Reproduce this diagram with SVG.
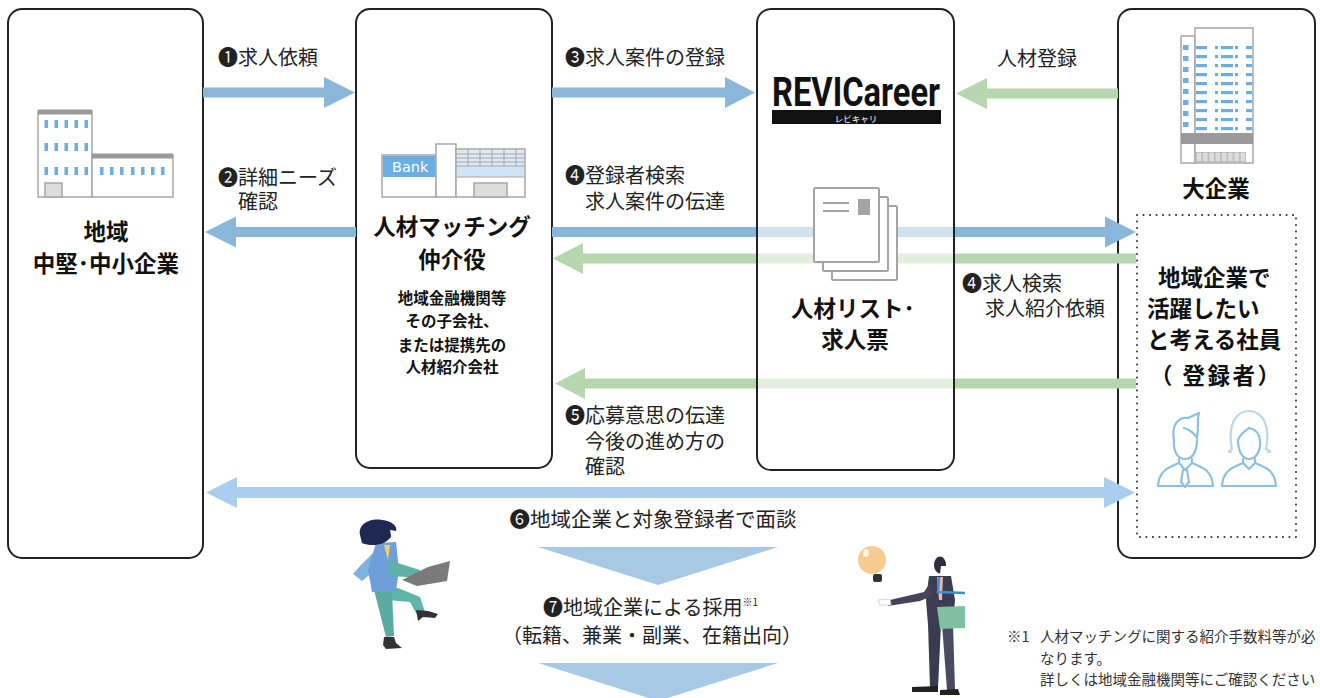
<svg xmlns="http://www.w3.org/2000/svg" width="1320" height="698" viewBox="0 0 1320 698">
  <style>
    text { font-family: "Noto Sans CJK JP", "Noto Sans", sans-serif; fill: #222; dominant-baseline: central; }
    .lbl { font-size: 20px; }
    .ttl { font-size: 22.5px; font-weight: bold; fill: #111; text-anchor: middle; }
    .sub { font-size: 15.5px; font-weight: bold; fill: #111; text-anchor: middle; }
    .note { font-size: 14.5px; fill: #333; }
    .box { fill: none; stroke: #222; stroke-width: 2; }
    .bldg { fill: #fff; stroke: #a6a6a6; stroke-width: 1.5; }
    .win { fill: #6aaee3; }
    .blue { fill: #8ab6da; }
    .green { fill: #b6d7ae; }
    .pale { fill: #a9cdec; }
    .person { fill: none; stroke: #8cc0e0; stroke-width: 2.2; stroke-linejoin: round; stroke-linecap: round; }
  </style>
  <defs>
    <pattern id="towerWin" patternUnits="userSpaceOnUse" x="1195" y="46" width="58" height="9">
      <rect x="1" y="0" width="11" height="3.2" class="win"/>
      <rect x="20" y="0" width="3" height="3.2" class="win"/>
      <rect x="26" y="0" width="12" height="3.2" class="win"/>
      <rect x="40" y="0" width="3" height="3.2" class="win"/>
      <rect x="51" y="0" width="6" height="3.2" class="win"/>
    </pattern>
    <pattern id="wingWin" patternUnits="userSpaceOnUse" x="1181" y="45" width="14" height="11">
      <rect x="2" y="0" width="5.5" height="5" class="win"/>
    </pattern>
    <pattern id="fence" patternUnits="userSpaceOnUse" x="1196" y="152" width="6.25" height="10">
      <rect x="0" y="0" width="6.25" height="10" fill="#ddd" stroke="#a6a6a6" stroke-width="1"/>
    </pattern>
  </defs>

  <!-- regional mid-size / small company -->
  <g id="node-chuken">
    <rect class="box" x="8" y="9" width="195" height="549" rx="14"/>
    <rect class="bldg" x="38" y="111" width="54" height="86"/>
    <rect class="bldg" x="92" y="155" width="81" height="42"/>
    <rect x="38" y="109.5" width="54" height="5" fill="#9a9a9a"/>
    <rect x="92" y="153.5" width="81" height="5" fill="#9a9a9a"/>
    <g class="win">
      <rect x="44.5" y="120" width="3.5" height="8"/><rect x="54.5" y="120" width="3.5" height="8"/><rect x="64.5" y="120" width="3.5" height="8"/><rect x="74.5" y="120" width="3.5" height="8"/><rect x="84.5" y="120" width="3.5" height="8"/>
      <rect x="44.5" y="143" width="3.5" height="8"/><rect x="54.5" y="143" width="3.5" height="8"/><rect x="64.5" y="143" width="3.5" height="8"/><rect x="74.5" y="143" width="3.5" height="8"/><rect x="84.5" y="143" width="3.5" height="8"/>
      <rect x="44.5" y="167" width="3.5" height="8"/><rect x="54.5" y="167" width="3.5" height="8"/><rect x="64.5" y="167" width="3.5" height="8"/><rect x="74.5" y="167" width="3.5" height="8"/><rect x="84.5" y="167" width="3.5" height="8"/>
      <rect x="100" y="167" width="3.5" height="8"/><rect x="110" y="167" width="3.5" height="8"/><rect x="120" y="167" width="3.5" height="8"/><rect x="131" y="167" width="3.5" height="8"/><rect x="141" y="167" width="3.5" height="8"/><rect x="151" y="167" width="3.5" height="8"/><rect x="161" y="167" width="3.5" height="8"/>
    </g>
    <rect x="45" y="183" width="17" height="14" fill="#ddd" stroke="#a6a6a6" stroke-width="1.5"/>
    <text class="ttl" x="106" y="230">地域</text>
    <text class="ttl" x="106" y="262">中堅･中小企業</text>
  </g>

  <!-- matching intermediary -->
  <g id="node-matching">
    <rect class="box" x="356" y="9" width="196" height="459" rx="14"/>
    <rect class="bldg" x="382" y="155" width="54" height="42"/>
    <rect x="383" y="156" width="52" height="21" fill="#6aaee3"/>
    <text x="392" y="167" style="font-family:'DejaVu Sans',sans-serif;font-size:14.5px;fill:#fff">Bank</text>
    <rect class="bldg" x="436" y="144" width="20" height="53"/>
    <rect class="bldg" x="456" y="149" width="69" height="48"/>
    <rect x="457" y="150" width="67" height="16" fill="#dbeaf6"/>
    <rect x="457" y="166" width="67" height="11" fill="#cfe5f5"/>
    <g stroke="#a6a6a6" stroke-width="1">
      <line x1="456" y1="154" x2="525" y2="154"/><line x1="456" y1="158" x2="525" y2="158"/><line x1="456" y1="162" x2="525" y2="162"/><line x1="456" y1="166" x2="525" y2="166"/>
      <line x1="468" y1="149" x2="468" y2="166"/><line x1="480" y1="149" x2="480" y2="166"/><line x1="492" y1="149" x2="492" y2="166"/><line x1="504" y1="149" x2="504" y2="166"/><line x1="516" y1="149" x2="516" y2="166"/>
      <line x1="456" y1="177" x2="525" y2="177"/>
    </g>
    <rect x="474" y="183" width="33" height="14" fill="#ddd" stroke="#a6a6a6" stroke-width="1.5"/>
    <text class="ttl" x="452" y="225">人材マッチング</text>
    <text class="ttl" x="452" y="258">仲介役</text>
    <text class="sub" x="452" y="297">地域金融機関等</text>
    <text class="sub" x="452" y="320">その子会社、</text>
    <text class="sub" x="452" y="344">または提携先の</text>
    <text class="sub" x="452" y="366">人材紹介会社</text>
  </g>

  <!-- large company and its employees -->
  <g id="node-daikigyo">
    <rect class="box" x="1118" y="9" width="197" height="549" rx="14"/>
    <rect class="bldg" x="1181" y="36" width="14" height="127"/>
    <rect class="bldg" x="1195" y="28" width="58" height="135"/>
    <rect x="1195.8" y="45" width="56.4" height="86" fill="url(#towerWin)"/>
    <rect x="1181.8" y="45" width="12.4" height="86" fill="url(#wingWin)"/>
    <rect x="1181" y="133" width="72" height="11" fill="#9a9a9a"/>
    <rect x="1196" y="152" width="50" height="10" fill="url(#fence)"/>
    <text class="ttl" x="1216" y="187">大企業</text>
    <rect x="1137" y="215" width="159" height="322" fill="none" stroke="#333" stroke-width="2" stroke-dasharray="0.1 6.4" stroke-linecap="round"/>
    <text class="ttl" x="1158" y="276" style="text-anchor:start">地域企業で</text>
    <text class="ttl" x="1147" y="307" style="text-anchor:start">活躍したい</text>
    <text class="ttl" x="1147" y="338" style="text-anchor:start">と考える社員</text>
    <text class="ttl" x="1150" y="374" style="text-anchor:start;letter-spacing:2.5px">（ 登録者）</text>
    <!-- man -->
    <g class="person">
      <path d="M1174,440 C1173,452 1178,459 1185,459 C1193,459 1197,451 1197,440"/>
      <path d="M1174,441 C1171,425 1178,417 1188,418 L1199,413 C1197,418 1199,424 1197,438 C1193,432 1188,429 1184,428"/>
      <path d="M1179,459 L1179,463 C1167,468 1159,471 1158,486 L1213,486 C1212,471 1204,468 1192,463 L1192,459"/>
      <path d="M1179,463 L1185,470 L1192,463"/>
      <path d="M1183,470 L1181,482 L1185,487 L1189,482 L1187,470"/>
    </g>
    <!-- woman -->
    <g class="person">
      <path d="M1238,440 C1238,452 1243,459 1249,459 C1256,459 1261,451 1260,440 C1259,432 1254,429 1249,428 C1245,431 1240,434 1238,440"/>
      <path d="M1232,449 C1227,425 1236,411 1249,411 C1262,411 1271,425 1266,449 C1270,451 1272,452 1268,452" stroke="#bcd6e6"/>
      <path d="M1232,449 C1229,451 1227,452 1231,452" stroke="#bcd6e6"/>
      <path d="M1243,459 L1243,463 C1231,468 1223,471 1222,486 L1276,486 C1275,471 1267,468 1255,463 L1255,459"/>
      <path d="M1243,463 L1249,469 L1255,463"/>
    </g>
  </g>

  <!-- flow arrows -->
  <g id="connectors">
    <!-- 1: job request -->
    <path class="blue" d="M203,87.5 H324 V77 L355,92.5 L324,108 V97.5 H203 Z"/>
    <!-- 2: detailed needs -->
    <path class="blue" d="M356,227 H236 V216.5 L205,232 L236,247.5 V237 H356 Z"/>
    <!-- 3: register job -->
    <path class="blue" d="M552,87.5 H725 V77 L755,92.5 L725,108 V97.5 H552 Z"/>
    <!-- talent registration -->
    <path class="green" d="M1118,88.5 H987 V78 L956,93.5 L987,109 V98.5 H1118 Z"/>
    <!-- 4: search / job info to registrant -->
    <path class="blue" d="M552,227 H1105 V216.5 L1136,232 L1105,247.5 V237 H552 Z"/>
    <!-- 4: job search / referral request -->
    <path class="green" d="M1136,253.5 H583 V243 L553,258.5 L583,274 V263.5 H1136 Z"/>
    <!-- 5: application intent -->
    <path class="green" d="M1136,378.5 H585 V368 L555,383.5 L585,399 V388.5 H1136 Z"/>
    <!-- 6: interview -->
    <path class="pale" d="M237,487 H1104 V477 L1135,492.5 L1104,508 V498 H237 V508 L206,492.5 L237,477 Z"/>
    <!-- 7: hiring steps -->
    <polygon points="538,547 778,547 658,585" fill="#a8c9e5"/>
    <polygon points="538,663 778,663 658,701" fill="#a8c9e5"/>
  </g>

  <!-- REVICareer platform (veils arrows passing through) -->
  <g id="node-revicareer">
    <rect x="757" y="9" width="197" height="461" rx="14" fill="#fff" fill-opacity="0.6" stroke="#222" stroke-width="2"/>
    <text x="772" y="92" textLength="168" lengthAdjust="spacingAndGlyphs" style="font-family:Roboto,'Liberation Sans',sans-serif;font-weight:bold;font-size:41px;fill:#111">REVICareer</text>
    <rect x="772" y="110" width="169" height="14" fill="#111"/>
    <text x="856" y="117.5" style="font-size:8.5px;fill:#fff;text-anchor:middle">レビキャリ</text>
    <g fill="#fff" stroke="#a3a3a3" stroke-width="2">
      <rect x="832" y="206" width="65" height="74" rx="1.5"/>
      <rect x="823" y="197" width="65" height="74" rx="1.5"/>
      <rect x="814" y="188" width="65" height="74" rx="1.5"/>
    </g>
    <line x1="823" y1="203" x2="849" y2="203" stroke="#a3a3a3" stroke-width="2"/>
    <line x1="823" y1="211" x2="849" y2="211" stroke="#a3a3a3" stroke-width="2"/>
    <rect x="858" y="199" width="12" height="16" fill="#a3a3a3"/>
    <text class="ttl" x="853" y="307">人材リスト･</text>
    <text class="ttl" x="855" y="338">求人票</text>
  </g>

  <!-- flow labels -->
  <g id="labels">
    <text class="lbl" x="218" y="56">❶求人依頼</text>
    <text class="lbl" x="218" y="176">❷詳細ニーズ</text>
    <text class="lbl" x="238" y="200">確認</text>
    <text class="lbl" x="565" y="56">❸求人案件の登録</text>
    <text class="lbl" x="565" y="174">❹登録者検索</text>
    <text class="lbl" x="585" y="200">求人案件の伝達</text>
    <text class="lbl" x="997" y="57">人材登録</text>
    <text class="lbl" x="962" y="282">❹求人検索</text>
    <text class="lbl" x="985" y="307">求人紹介依頼</text>
    <text class="lbl" x="565" y="414">❺応募意思の伝達</text>
    <text class="lbl" x="585" y="440">今後の進め方の</text>
    <text class="lbl" x="585" y="465">確認</text>
    <text class="lbl" x="653" y="518" style="text-anchor:middle;font-size:20.5px">❻地域企業と対象登録者で面談</text>
    <text class="lbl" x="543" y="606">❼地域企業による採用<tspan style="font-size:10px" dy="-5">※1</tspan></text>
    <text class="lbl" x="652" y="634" style="text-anchor:middle">（転籍、兼業・副業、在籍出向）</text>
    <text class="note" x="1007" y="635">※1<tspan x="1040">人材マッチングに関する紹介手数料等が必</tspan></text>
    <text class="note" x="1040" y="657">なります。</text>
    <text class="note" x="1040" y="678">詳しくは地域金融機関等にご確認ください</text>
  </g>

  <!-- woman leaping with a laptop -->
  <g id="figure-woman">
    <polygon points="372,588 398,588 420,597 425,612 416,613 410,602 388,600" fill="#5fb5a8"/>
    <polygon points="416,610 428,611 438,614 435,618 423,617 418,621" fill="#333"/>
    <polygon points="374,590 392,592 394,636 386,637" fill="#5aaaa0"/>
    <polygon points="384,637 394,637 396,643 402,648 386,649 383,645" fill="#333"/>
    <polygon points="376,550 360,566 353,574 362,581 380,566" fill="#7fb4e0"/>
    <polygon points="376,543 396,542 399,570 396,591 372,592 368,570" fill="#6e9fd8"/>
    <polygon points="384,545 390,545 388,560" fill="#f0d070"/>
    <polygon points="388,560 420,570 423,578 390,576" fill="#5fb0a8"/>
    <polygon points="402,580 428,567 450,561 447,581 417,586" fill="#7a7a7a"/>
    <path d="M360,535 C358,524 370,518 382,520 C392,521 398,526 396,532 L390,538 C385,545 372,547 362,543 Z" fill="#1f2850"/>
    <polygon points="390,530 397,531 398,540 392,541" fill="#fff"/>
  </g>

  <!-- man presenting an idea -->
  <g id="figure-man">
    <circle cx="872" cy="560" r="14" fill="#f6cc90"/>
    <ellipse cx="866" cy="553" rx="3" ry="4" fill="#fff" fill-opacity="0.7"/>
    <rect x="873" y="574" width="9" height="8" rx="2" fill="#333"/>
    <polygon points="928,624 941,624 938,688 930,688" fill="#3a3a50"/>
    <polygon points="942,624 953,624 955,690 947,690" fill="#4a4a62"/>
    <polygon points="912,687 938,686 938,692 912,692" fill="#222"/>
    <polygon points="940,690 958,689 960,695 940,695" fill="#222"/>
    <polygon points="929,576 951,576 955,600 953,625 928,625 926,600" fill="#3c3c52"/>
    <polygon points="937,577 943,577 942,600 939,600" fill="#e7b8a8"/>
    <polygon points="930,583 924,592 890,600 888,606 920,601 932,596" fill="#44445a"/>
    <polygon points="878,600 890,599 891,605 880,605" fill="#fff" stroke="#ccc" stroke-width="0.8"/>
    <polyline points="939,577 938,592 965,593" fill="none" stroke="#3b8fd6" stroke-width="2.5"/>
    <polygon points="937,607 965,606 965,628 940,629" fill="#7fc0a0"/>
    <ellipse cx="940" cy="565" rx="6" ry="8.5" fill="#2e2e3c"/>
    <polygon points="941,566 946,566 945,574 940,574" fill="#fff"/>
  </g>
</svg>
